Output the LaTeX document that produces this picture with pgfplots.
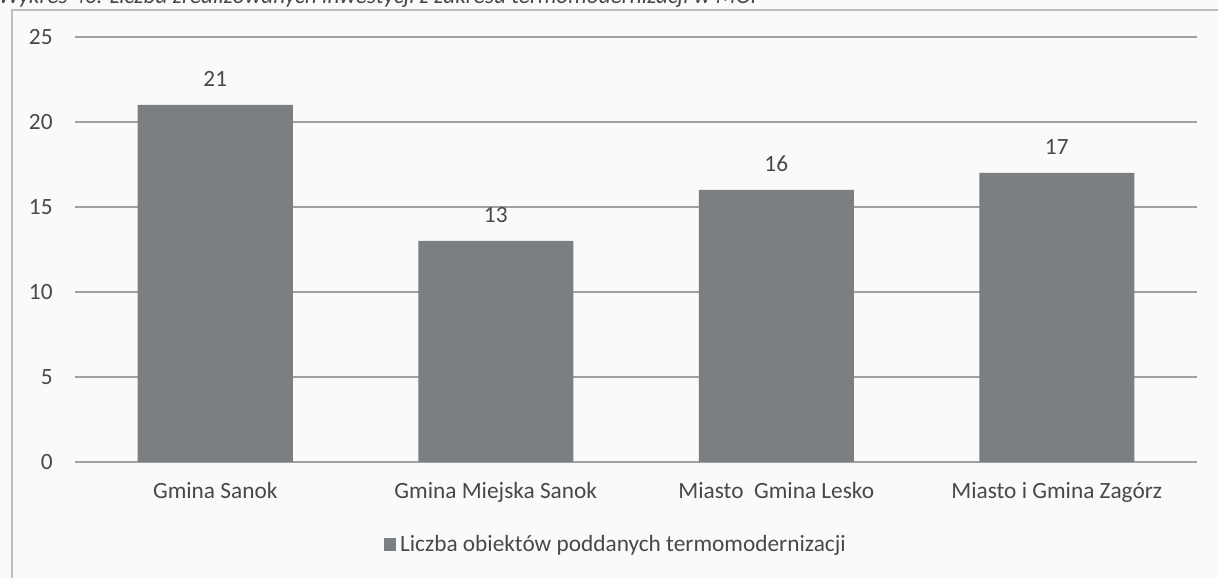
\documentclass[border=0pt]{standalone}
\usepackage{fontspec}
\setmainfont{Carlito}
\usepackage{pgfplots}
\pgfplotsset{compat=1.18}
\definecolor{barcol}{RGB}{124,127,130}
\definecolor{txtcol}{RGB}{72,72,72}
\definecolor{gridcol}{RGB}{160,160,160}
\definecolor{framecol}{RGB}{190,190,190}
\definecolor{bgcol}{RGB}{250,250,250}
\begin{document}
\begin{tikzpicture}
\useasboundingbox (0bp,0bp) rectangle (609bp,289bp);
\fill[bgcol] (0bp,0bp) rectangle (609bp,289bp);
% cut-off caption at top
\node[anchor=base west, inner sep=0pt, text=txtcol, font=\fontsize{11.7}{14}\selectfont\itshape] at (-1bp,287bp) {Wykres 40. Liczba zrealizowanych inwestycji z zakresu termomodernizacji w MOF};
% frame
\draw[framecol, line width=0.8bp] (6bp,0bp) -- (6bp,284bp) -- (609bp,284bp);
\begin{axis}[
  at={(37.5bp,58bp)}, anchor=south west,
  scale only axis,
  width=561bp, height=212.5bp,
  xmin=-0.5, xmax=3.5, ymin=0, ymax=25,
  ybar, bar width=77.5bp,
  axis line style={draw=none},
  major tick length=0pt,
  ytick={0,5,10,15,20,25},
  xtick={0,1,2,3},
  xticklabels={Gmina Sanok, Gmina Miejska Sanok, Miasto\ \ Gmina Lesko, Miasto i Gmina Zagórz},
  ymajorgrids, grid style={gridcol, line width=0.8bp},
  tick label style={font=\fontsize{11.7}{14}\selectfont, text=txtcol},
  yticklabel style={inner sep=0pt, xshift=-11bp},
  xticklabel style={inner sep=0pt, yshift=-10bp},
  /pgf/number format/assume math mode=true,
  nodes near coords,
  every node near coord/.append style={font=\fontsize{11.7}{14}\selectfont, text=txtcol, inner sep=0pt, anchor=south, yshift=9bp},
  legend style={at={(0.483,-0.195)}, anchor=center, draw=none, fill=none, font=\fontsize{11.7}{14}\selectfont, text=txtcol, inner sep=0pt, cells={anchor=west}},
  legend image code/.code={\fill[barcol] (0bp,-3bp) rectangle (6bp,3.5bp);},
  clip=false,
]
\addplot[fill=barcol, draw=none] coordinates {(0,21) (1,13) (2,16) (3,17)};
\addlegendentry{Liczba obiektów poddanych termomodernizacji}
\end{axis}
\end{tikzpicture}
\end{document}
